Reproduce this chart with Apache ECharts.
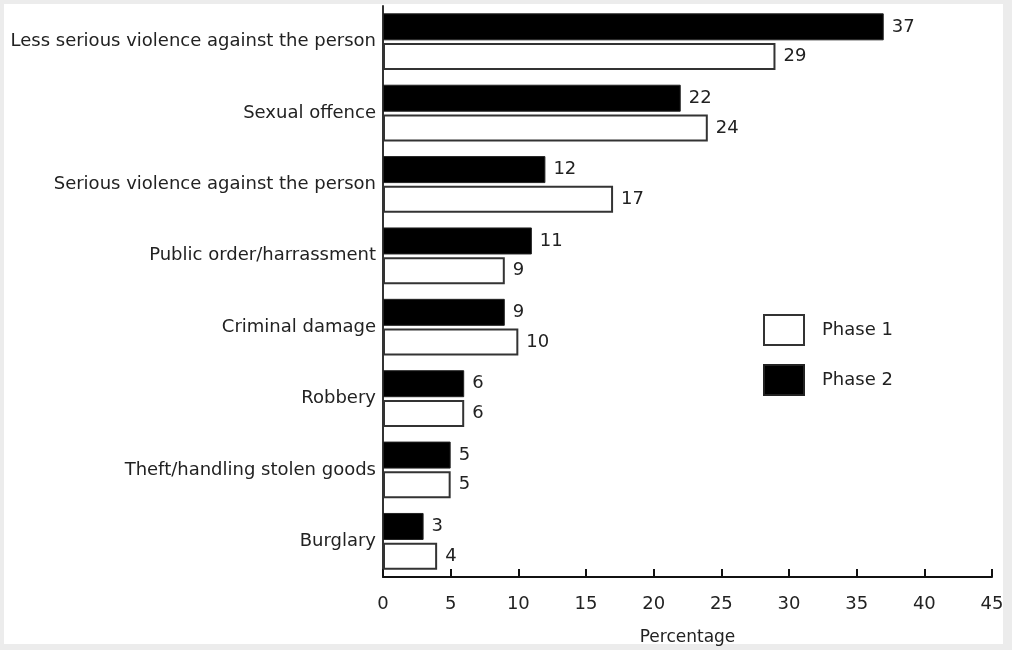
<!DOCTYPE html>
<html><head><meta charset="utf-8">
<script src="https://cdn.jsdelivr.net/npm/echarts@6/dist/echarts.min.js"></script>
<style>html,body{margin:0;padding:0;background:#ececec}#c{width:1012px;height:650px}</style>
</head><body><div id="c"></div>
<script>
const categories = ['Less serious violence against the person','Sexual offence','Serious violence against the person','Public order/harrassment','Criminal damage','Robbery','Theft/handling stolen goods','Burglary'];
const phase1 = [29,24,17,9,10,6,5,4];
const phase2 = [37,22,12,11,9,6,5,3];
const xTicks = [0,5,10,15,20,25,30,35,40,45];

const font = 'DejaVu Sans';
const chart = echarts.init(document.getElementById('c'));
chart.setOption({
  backgroundColor: '#ececec',
  animation: false,
  textStyle: {fontFamily: font},
  graphic: [
    {type:'rect', shape:{x:4,y:4,width:999,height:640}, style:{fill:'#ffffff'}, z:-10, silent:true},
    {type:'rect', shape:{x:1003,y:0,width:9,height:650}, style:{fill:'#ececec'}, z:100, zlevel:1, silent:true}
  ],
  grid: {left:383, right:20, top:6, bottom:73, containLabel:false, outerBoundsMode:'none'},
  legend: {
    orient:'vertical', left:763, top:314, padding:0, itemWidth:40, itemHeight:30, itemGap:18,
    data:['Phase 1','Phase 2'],
    textStyle:{fontFamily:font, fontSize:18, color:'#222', padding:[0,0,0,13]},
    icon:'rect'
  },
  xAxis: {
    type:'value', min:0, max:45, interval:5,
    axisLine:{show:true, lineStyle:{color:'#111', width:2}},
    axisTick:{show:true, inside:true, length:8, lineStyle:{color:'#111', width:2}},
    splitLine:{show:false},
    axisLabel:{fontFamily:font, fontSize:18, color:'#222', margin:18, showMaxLabel:true,
      formatter: v => xTicks.includes(v) ? String(v) : ''},
    name:'Percentage', nameLocation:'middle', nameGap:52,
    nameTextStyle:{fontFamily:font, fontSize:17, color:'#222'}
  },
  yAxis: {
    type:'category', data:categories, inverse:true,
    axisLine:{show:true, lineStyle:{color:'#333', width:2}},
    axisTick:{show:false},
    axisLabel:{fontFamily:font, fontSize:18, color:'#222', margin:7}
  },
  series: [
    {name:'Phase 2', type:'bar', data:phase2, barWidth:27, barGap:'10%',
     itemStyle:{color:'#000', borderColor:'#222', borderWidth:1},
     label:{show:true, position:'right', distance:8, fontFamily:font, fontSize:18, color:'#222'}},
    {name:'Phase 1', type:'bar', data:phase1, barWidth:27, barGap:'10%',
     itemStyle:{color:'#fff', borderColor:'#333', borderWidth:2},
     label:{show:true, position:'right', distance:8, fontFamily:font, fontSize:18, color:'#222'}}
  ]
});
</script></body></html>
